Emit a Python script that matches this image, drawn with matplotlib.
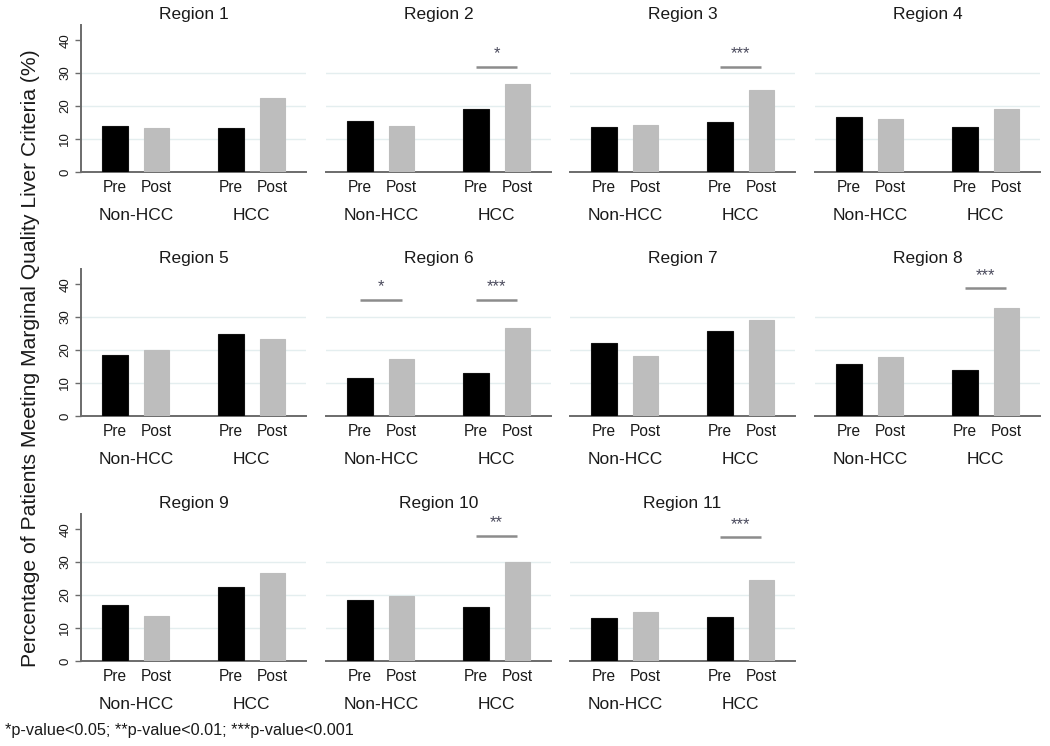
import matplotlib
matplotlib.use("Agg")
import matplotlib.pyplot as plt

plt.rcParams['font.family'] = ['Liberation Sans', 'DejaVu Sans']

regions = ["Region 1", "Region 2", "Region 3", "Region 4", "Region 5", "Region 6",
           "Region 7", "Region 8", "Region 9", "Region 10", "Region 11"]
groups = ["Non-HCC", "HCC"]
periods = ["Pre", "Post"]

# values: [NonHCC Pre, NonHCC Post, HCC Pre, HCC Post]
nonhcc_pre  = [14.0, 15.5, 13.6, 16.6, 18.5, 11.6, 22.1, 15.7, 16.9, 18.6, 13.1]
nonhcc_post = [13.5, 13.9, 14.4, 16.1, 20.0, 17.2, 18.2, 17.9, 13.6, 19.8, 15.0]
hcc_pre     = [13.5, 19.2, 15.2, 13.7, 24.9, 13.1, 25.8, 13.9, 22.5, 16.4, 13.2]
hcc_post    = [22.3, 26.6, 25.0, 19.1, 23.4, 26.6, 29.2, 32.9, 26.6, 29.9, 24.7]

# significance annotations: (region index, group index, stars, bracket height)
sig_region = [1, 2, 5, 5, 7, 9, 10]
sig_group  = [1, 1, 0, 1, 1, 1, 1]
sig_stars  = ["*", "***", "*", "***", "***", "**", "***"]
sig_height = [31.9, 31.8, 35.2, 35.2, 38.7, 38.0, 37.5]

yticks = [0, 10, 20, 30, 40]
gridlines = [10, 20, 30]

W, H = 1050, 746
fig = plt.figure(figsize=(W / 100, H / 100), dpi=100)

col_left = [81, 326, 570, 815]
row_base = [172, 416, 661]
ax_w, ax_h = 225, 147

txt = '#1a1a1a'
axis_col = '#6b6b6b'

gap = 2.79
xpos = [0, 1, gap, gap + 1]
bw = 0.61

for i, name in enumerate(regions):
    r, c = divmod(i, 4)
    ax = fig.add_axes([col_left[c] / W, 1 - row_base[r] / H, ax_w / W, ax_h / H])
    vals = [nonhcc_pre[i], nonhcc_post[i], hcc_pre[i], hcc_post[i]]
    colors = ['black', '#bdbdbd', 'black', '#bdbdbd']
    edges = ['#111111', '#bdbdbd', '#111111', '#bdbdbd']
    ax.bar(xpos, vals, width=bw, color=colors, edgecolor=edges, linewidth=0.8, zorder=3)
    for g in gridlines:
        ax.axhline(g, color='#e4eeef', lw=1.0, zorder=0)
    ax.set_xlim(-0.82, gap + 1 + 0.81)
    ax.set_ylim(0, 44.6)
    for s in ['top', 'right']:
        ax.spines[s].set_visible(False)
    ax.spines['bottom'].set_color(axis_col)
    ax.spines['bottom'].set_linewidth(1.4)
    ax.set_xticks(xpos)
    ax.set_xticklabels(periods * 2, fontsize=11.2, color=txt)
    ax.tick_params(axis='x', length=0, pad=6)
    if c == 0:
        ax.spines['left'].set_color(axis_col)
        ax.spines['left'].set_linewidth(1.4)
        ax.set_yticks(yticks)
        ax.set_yticklabels([str(t) for t in yticks], rotation=90, va='center',
                           fontsize=9.5, color=txt)
        ax.tick_params(axis='y', length=4, width=1, color=axis_col, pad=3)
    else:
        ax.spines['left'].set_visible(False)
        ax.set_yticks([])
    for gi, gname in enumerate(groups):
        xc = (xpos[2 * gi] + xpos[2 * gi + 1]) / 2
        ax.annotate(gname, xy=(xc, 0), xycoords=('data', 'axes fraction'),
                    xytext=(0, -31.5), textcoords='offset points',
                    ha='center', va='center', fontsize=12.5, color=txt)
    ax.set_title(name, fontsize=12.5, color=txt, pad=4)

    for k in range(len(sig_region)):
        if sig_region[k] != i:
            continue
        gi = sig_group[k]
        x0, x1 = xpos[2 * gi], xpos[2 * gi + 1]
        y = sig_height[k]
        ax.plot([x0, x1], [y, y], color='#8c8c8c', lw=1.8, solid_capstyle='butt',
                zorder=3, clip_on=False)
        ax.annotate(sig_stars[k], xy=((x0 + x1) / 2, y), xycoords='data',
                    xytext=(0, 9.5), textcoords='offset points',
                    ha='center', va='center', fontsize=12, color='#4a4a5c',
                    annotation_clip=False)

fig.text(31 / W, 1 - 358 / H,
         "Percentage of Patients Meeting Marginal Quality Liver Criteria (%)",
         rotation=90, ha='center', va='center', fontsize=15.2, color=txt)
fig.text(5 / W, 1 - 731 / H, "*p-value<0.05; **p-value<0.01; ***p-value<0.001",
         ha='left', va='center', fontsize=11.7, color=txt)

fig.savefig("out.png", dpi=100, facecolor='white')
